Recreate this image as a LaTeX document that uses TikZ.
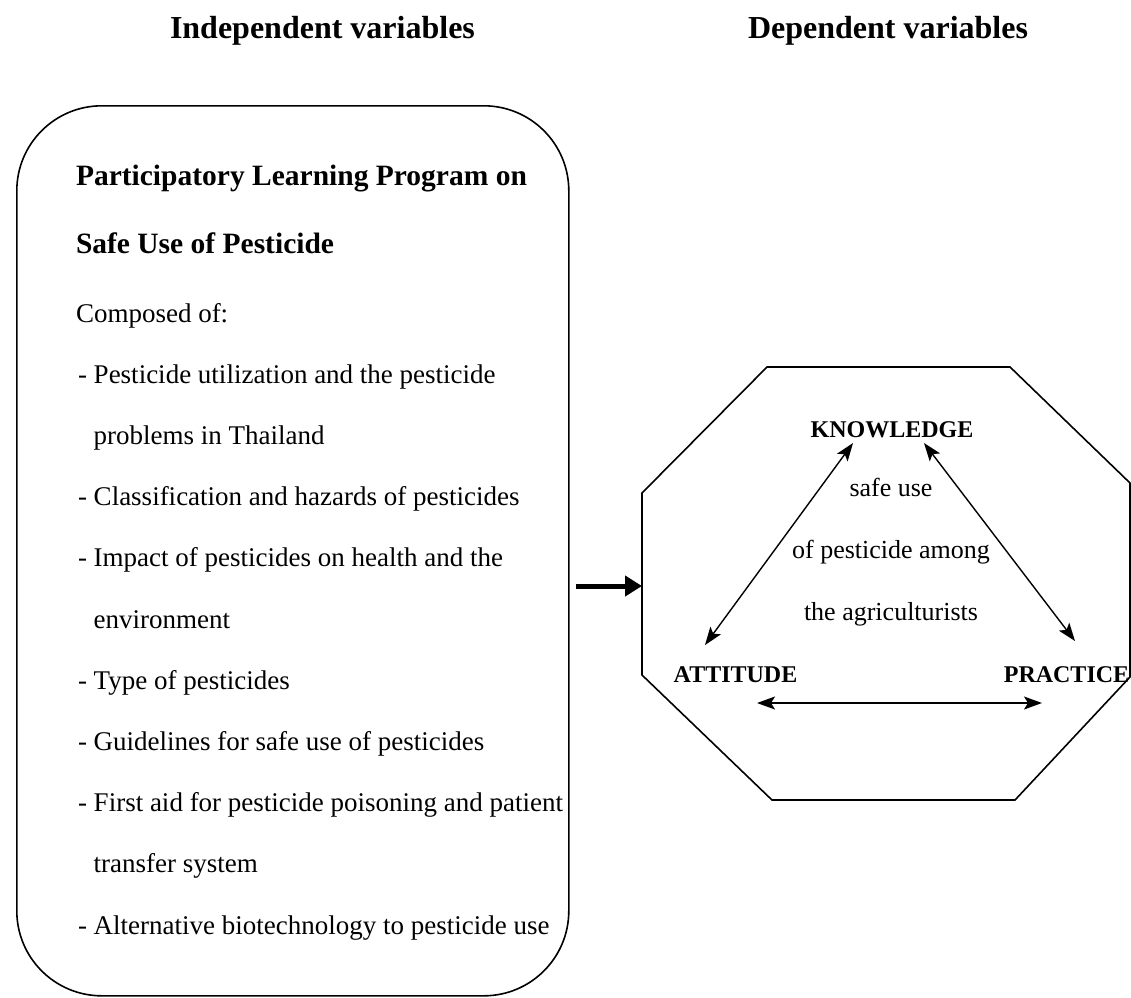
\documentclass[tikz,border=0pt]{standalone}
\usepackage{fontspec}
\setmainfont{Liberation Serif}
\usetikzlibrary{arrows.meta}
\begin{document}
\begin{tikzpicture}[x=1pt,y=-1pt,
  txt/.style={inner sep=0pt, outer sep=0pt},
  titletext/.style={txt, font=\fontsize{32}{38}\selectfont\bfseries},
  headtext/.style={txt, anchor=base west, font=\fontsize{29.5}{35}\selectfont\bfseries},
  bodytext/.style={txt, anchor=base west, font=\fontsize{27}{32}\selectfont},
  capslabel/.style={txt, anchor=base, font=\fontsize{24}{29}\selectfont\bfseries},
  midtext/.style={txt, anchor=base, font=\fontsize{26}{31}\selectfont},
  frame/.style={line width=1.6pt, black},
  twoway/.style={line width=1.4pt, {Stealth[length=18pt,width=13pt,inset=4pt]}-{Stealth[length=18pt,width=13pt,inset=4pt]}},
  bigarrow/.style={line width=5pt, -{Triangle[length=17pt,width=20pt]}}]
\useasboundingbox (0,0) rectangle (1131,997);
\fill[white] (0,0) rectangle (1131,997);

% titles
\node[titletext, anchor=base west] (indep) at (170,38) {Independent variables};
\node[titletext, anchor=base east] (dep) at (1028,38) {Dependent variables};

% program box
\node[draw, frame, rounded corners=85pt, minimum width=552pt, minimum height=890pt,
      inner sep=0pt, anchor=north west] (prog) at (16,105) {};

\node[headtext] (h1) at (76,185) {Participatory Learning Program on};
\node[headtext] (h2) at (76,253) {Safe Use of Pesticide};
\node[bodytext] (l0) at (76,322) {Composed of:};
\node[bodytext] (l1) at (78,383.2) {- Pesticide utilization and the pesticide};
\node[bodytext] (l2) at (78,444.4) {\phantom{- }problems in Thailand};
\node[bodytext] (l3) at (78,505.6) {- Classification and hazards of pesticides};
\node[bodytext] (l4) at (78,566.8) {- Impact of pesticides on health and the};
\node[bodytext] (l5) at (78,628.0) {\phantom{- }environment};
\node[bodytext] (l6) at (78,689.2) {- Type of pesticides};
\node[bodytext] (l7) at (78,750.4) {- Guidelines for safe use of pesticides};
\node[bodytext] (l8) at (78,811.6) {- First aid for pesticide poisoning and patient};
\node[bodytext] (l9) at (78,872.8) {\phantom{- }transfer system};
\node[bodytext] (l10) at (78,934.0) {- Alternative biotechnology to pesticide use};

% octagon
\coordinate (o1) at (767,367);
\coordinate (o2) at (1010,367);
\coordinate (o3) at (1130,483);
\coordinate (o4) at (1130,677);
\coordinate (o5) at (1015,800);
\coordinate (o6) at (772,800);
\coordinate (o7) at (642,675);
\coordinate (o8) at (642,493);
\draw[frame, line join=miter] (o1) -- (o2) -- (o3) -- (o4) -- (o5) -- (o6) -- (o7) -- (o8) -- cycle;

% main arrow
\coordinate (arrStart) at (576,586);
\coordinate (arrEnd) at (642,586);
\draw[bigarrow] (arrStart) -- (arrEnd);

% labels in octagon
\node[capslabel] (know) at (892,437) {KNOWLEDGE};
\node[capslabel] (att) at (735.5,682) {ATTITUDE};
\node[capslabel] (prac) at (1066.5,682) {PRACTICE};
\node[midtext] (m1) at (891,496) {safe use};
\node[midtext] (m2) at (891,558) {of pesticide among};
\node[midtext] (m3) at (891,620) {the agriculturists};

% connector ends
\coordinate (kA) at (853,443);
\coordinate (aK) at (705,645);
\coordinate (kP) at (924,443);
\coordinate (pK) at (1075,641);
\coordinate (aP) at (757,703);
\coordinate (pA) at (1042,703);
\draw[twoway] (kA) -- (aK);
\draw[twoway] (kP) -- (pK);
\draw[twoway] (aP) -- (pA);
\end{tikzpicture}
\end{document}
